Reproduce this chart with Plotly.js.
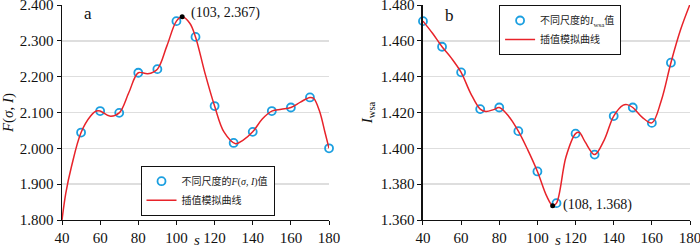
<!DOCTYPE html>
<html>
<head>
<meta charset="utf-8">
<script src="https://cdn.plot.ly/plotly-3.0.1.min.js"></script>
<style>
  body { margin: 0; background: #fff; }
  #box { width: 700px; height: 249px; }
</style>
</head>
<body>
<div id="box"></div>
<script>
'use strict'

// panel a: F(sigma, I) at each scale
var scalesA = [50, 60, 70, 80, 90, 100, 110, 120, 130, 140, 150, 160, 170, 180];
var valuesA = [2.044, 2.104, 2.099, 2.211, 2.221, 2.355, 2.311, 2.118, 2.015, 2.046, 2.104, 2.114, 2.142, 2.000];
// fitted curve of panel a
var curveSA = [40, 42, 45, 50, 55, 58, 60, 65, 70, 75, 80, 85, 90, 95, 100, 103, 107, 110, 115, 120, 125, 131, 135, 140, 145, 150, 155, 160, 165, 170, 172, 175, 178, 180];
var curveFA = [1.800, 1.875, 1.950, 2.044, 2.090, 2.104, 2.104, 2.090, 2.099, 2.155, 2.211, 2.208, 2.221, 2.286, 2.355, 2.367, 2.349, 2.311, 2.209, 2.118, 2.045, 2.013, 2.023, 2.046, 2.082, 2.104, 2.109, 2.114, 2.129, 2.142, 2.139, 2.104, 2.042, 2.000];
var peakA = {s: 103, v: 2.367};

// panel b: I_wsa at each scale
var scalesB = [40, 50, 60, 70, 80, 90, 100, 110, 120, 130, 140, 150, 160, 170, 180];
var valuesB = [1.471, 1.4567, 1.4424, 1.4219, 1.4228, 1.4096, 1.3871, 1.3694, 1.4082, 1.3965, 1.4180, 1.4228, 1.4142, 1.4478, 1.4804];
var curveSB = [40, 45, 50, 55, 60, 65, 70, 73, 77, 80, 85, 90, 95, 100, 105, 108, 110, 115, 120, 122, 125, 130, 135, 140, 145, 147, 150, 155, 160, 165, 170, 175, 180];
var curveIB = [1.471, 1.4642, 1.4567, 1.4502, 1.4424, 1.4307, 1.4219, 1.4206, 1.4216, 1.4228, 1.4178, 1.4096, 1.3990, 1.3871, 1.3730, 1.368, 1.3694, 1.3953, 1.4082, 1.4088, 1.4036, 1.3965, 1.4046, 1.4180, 1.4241, 1.4244, 1.4228, 1.4173, 1.4142, 1.4269, 1.4478, 1.4660, 1.4804];
var minB = {s: 108, v: 1.368};

// tick values
var ticksS = [40, 60, 80, 100, 120, 140, 160, 180];
var ticksA = [1.8, 1.9, 2.0, 2.1, 2.2, 2.3, 2.4];
var ticksB = [1.36, 1.38, 1.40, 1.42, 1.44, 1.46, 1.48];

var serif = 'Liberation Serif, Noto Sans CJK SC, serif';
var blue = '#1b9fe0';
var red = '#e8232a';

var traces = [
  {
    type: 'scatter', mode: 'markers', name: '不同尺度的<i>F</i>(<i>σ</i>, <i>I</i>)值',
    x: scalesA, y: valuesA, xaxis: 'x', yaxis: 'y', cliponaxis: false, legend: 'legend',
    marker: {symbol: 'circle-open', size: 8, color: blue, line: {width: 1.8, color: blue}}
  },
  {
    type: 'scatter', mode: 'lines', name: '插值模拟曲线',
    x: curveSA, y: curveFA, xaxis: 'x', yaxis: 'y', cliponaxis: false, legend: 'legend',
    line: {shape: 'spline', smoothing: 1, color: red, width: 1.5}
  },
  {
    type: 'scatter', mode: 'markers', showlegend: false,
    x: [peakA.s], y: [peakA.v], xaxis: 'x', yaxis: 'y', cliponaxis: false,
    marker: {size: 5, color: '#000'}
  },
  {
    type: 'scatter', mode: 'markers', name: '不同尺度的<i>I</i><sub>wsa</sub>值',
    x: scalesB, y: valuesB, xaxis: 'x2', yaxis: 'y2', cliponaxis: false, legend: 'legend2',
    marker: {symbol: 'circle-open', size: 8, color: blue, line: {width: 1.8, color: blue}}
  },
  {
    type: 'scatter', mode: 'lines', name: '插值模拟曲线',
    x: curveSB, y: curveIB, xaxis: 'x2', yaxis: 'y2', cliponaxis: false, legend: 'legend2',
    line: {shape: 'spline', smoothing: 1, color: red, width: 1.5}
  },
  {
    type: 'scatter', mode: 'markers', showlegend: false,
    x: [minB.s], y: [minB.v], xaxis: 'x2', yaxis: 'y2', cliponaxis: false,
    marker: {size: 5, color: '#000'}
  }
];

function xAxis(domain, anchor){
  return {
    domain: domain, anchor: anchor, range: [40, 180],
    tickmode: 'array', tickvals: ticksS, ticklabeloverflow: 'allow',
    showgrid: false, zeroline: false,
    showline: true, linecolor: '#111', linewidth: 1.2,
    ticks: 'outside', ticklen: 4, tickcolor: '#111',
    tickfont: {family: serif, size: 15, color: '#111'}
  };
}

function yAxis(range, tickvals, anchor, titleText){
  return {
    anchor: anchor, range: range, tickmode: 'array', tickvals: tickvals, tickformat: '.3f',
    ticklabeloverflow: 'allow',
    showgrid: true, gridcolor: '#dedede', gridwidth: 1.5, zeroline: false,
    showline: true, linecolor: '#111', linewidth: 1.5,
    ticks: 'outside', ticklen: 4, tickcolor: '#111',
    tickfont: {family: serif, size: 15, color: '#111'},
    title: {text: titleText, font: {family: serif, size: 15, color: '#111'}, standoff: 4}
  };
}

function legendBox(x, y, xanchor, yanchor){
  return {
    x: x, y: y, xanchor: xanchor, yanchor: yanchor,
    bgcolor: '#fff', bordercolor: '#111', borderwidth: 1,
    font: {family: serif, size: 10, color: '#222'},
    tracegroupgap: 0, itemwidth: 30
  };
}

function sTitle(xref){
  return {xref: xref, yref: 'paper', x: 0.505, y: 0, yanchor: 'bottom', yshift: -30,
          text: '<i>s</i>', showarrow: false, font: {family: serif, size: 15, color: '#111'}};
}

var layout = {
  width: 700,
  height: 249,
  margin: {l: 62, r: 10, t: 5, b: 29},
  paper_bgcolor: '#fff',
  plot_bgcolor: '#fff',
  showlegend: true,
  xaxis: xAxis([0, 0.4252], 'y'),
  yaxis: yAxis([1.8, 2.4], ticksA, 'x', '<i>F</i>(<i>σ</i>, <i>I</i>)'),
  xaxis2: xAxis([0.5748, 1], 'y2'),
  yaxis2: yAxis([1.36, 1.48], ticksB, 'x2', '<i>I</i><sub>wsa</sub>'),
  legend: legendBox(0.125, 0.02, 'left', 'bottom'),
  legend2: legendBox(0.696, 1.0, 'left', 'top'),
  annotations: [
    sTitle('x domain'),
    sTitle('x2 domain'),
    {xref: 'x', yref: 'y', x: 53.6, y: 2.375, text: 'a', showarrow: false,
     font: {family: serif, size: 17, color: '#111'}},
    {xref: 'x2', yref: 'y2', x: 53.8, y: 1.474, text: 'b', showarrow: false,
     font: {family: serif, size: 17, color: '#111'}},
    {xref: 'x', yref: 'y', x: peakA.s, y: peakA.v, text: '(103, 2.367)', showarrow: false,
     xanchor: 'left', xshift: 7, yshift: 4, font: {family: serif, size: 14, color: '#111'}},
    {xref: 'x2', yref: 'y2', x: minB.s, y: minB.v, text: '(108, 1.368)', showarrow: false,
     xanchor: 'left', xshift: 8, yshift: 1, font: {family: serif, size: 14, color: '#111'}}
  ]
};

Plotly.newPlot('box', traces, layout, {displayModeBar: false, staticPlot: true});
</script>
</body>
</html>
